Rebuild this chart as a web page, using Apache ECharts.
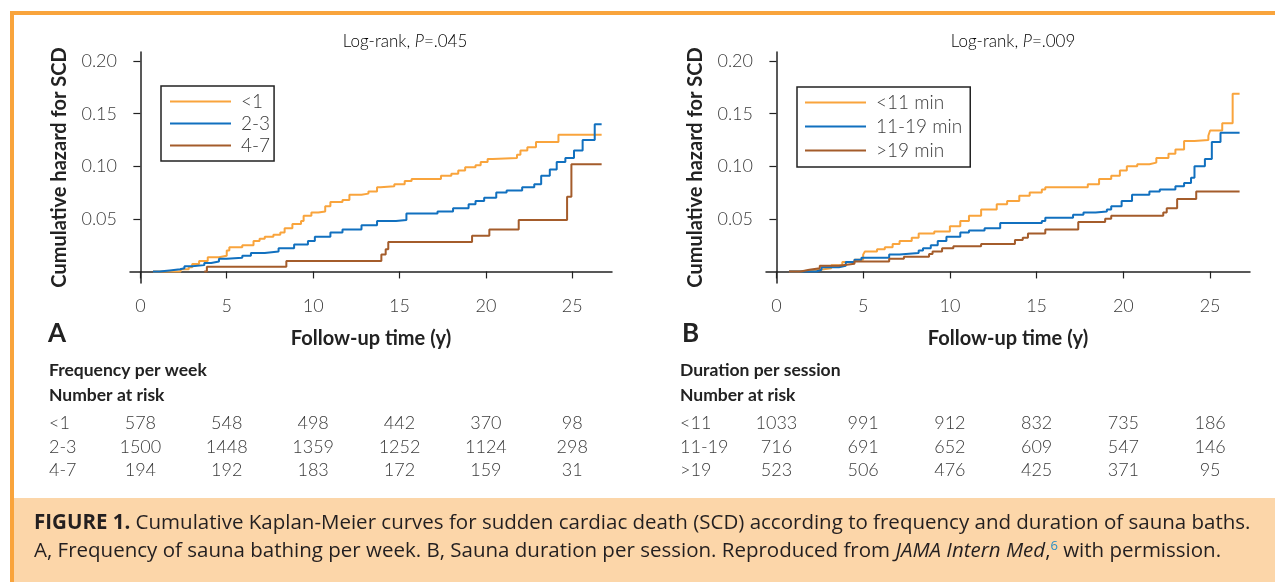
<!DOCTYPE html>
<html>
<head>
<meta charset="utf-8">
<script src="https://cdn.jsdelivr.net/npm/echarts@6.0.0/dist/echarts.min.js"></script>
<style>
  html, body { margin: 0; padding: 0; background: #fff; }
  #main { width: 1275px; height: 582px; }
</style>
</head>
<body>
<div id="main"></div>
<script>
// A: frequency per week
const freqNames = ['<1', '2-3', '4-7'];
const freqLt1 = [[0.73,0],[2.33,0.002],[2.8,0.004],[3.0,0.007],[3.4,0.010],[3.9,0.0134],[4.55,0.015],[5.0,0.020],[5.15,0.023],[5.9,0.025],[6.55,0.029],[6.9,0.031],[7.2,0.033],[7.7,0.035],[8.1,0.037],[8.35,0.041],[8.8,0.045],[9.3,0.048],[9.45,0.053],[9.9,0.056],[10.3,0.057],[10.7,0.062],[11.0,0.066],[11.7,0.068],[12.1,0.073],[12.8,0.074],[13.2,0.076],[13.7,0.080],[13.9,0.081],[14.7,0.083],[15.3,0.086],[15.7,0.088],[17.4,0.091],[18.0,0.093],[18.4,0.096],[18.8,0.099],[19.4,0.101],[19.7,0.104],[20.1,0.107],[20.4,0.108],[21.8,0.111],[22.0,0.115],[22.4,0.118],[22.9,0.123],[24.2,0.130],[26.7,0.130]];
const freq2to3 = [[0.73,0],[1.1,0.001],[1.7,0.002],[2.3,0.003],[2.55,0.005],[3.0,0.006],[3.7,0.008],[4.1,0.0095],[4.55,0.012],[5.0,0.013],[5.9,0.015],[6.4,0.0175],[7.2,0.019],[8.0,0.022],[8.9,0.0255],[9.7,0.029],[10.1,0.033],[11.0,0.037],[11.7,0.040],[12.8,0.044],[13.7,0.048],[14.8,0.049],[15.4,0.055],[17.2,0.057],[18.1,0.060],[19.0,0.064],[19.4,0.067],[19.9,0.070],[20.6,0.075],[21.2,0.077],[22.1,0.080],[22.8,0.083],[23.2,0.091],[23.7,0.097],[24.1,0.104],[24.6,0.108],[25.1,0.115],[25.6,0.125],[26.3,0.140],[26.7,0.140]];
const freq4to7 = [[3.7,0],[3.85,0.0045],[8.45,0.010],[13.95,0.016],[14.2,0.021],[14.35,0.028],[19.2,0.034],[20.2,0.040],[21.9,0.049],[24.7,0.071],[24.95,0.102],[26.7,0.102]];

// B: duration per session
const durNames = ['<11 min', '11-19 min', '>19 min'];
const durLt11 = [[0.73,0],[1.28,0.0016],[2.5,0.003],[3.16,0.006],[3.8,0.009],[4.5,0.011],[5.0,0.016],[5.1,0.019],[5.8,0.021],[6.25,0.023],[6.7,0.026],[7.1,0.029],[7.8,0.032],[8.2,0.036],[9.1,0.038],[10.0,0.043],[10.6,0.048],[11.1,0.053],[11.8,0.059],[12.7,0.064],[13.3,0.067],[14.0,0.072],[14.6,0.075],[15.3,0.078],[15.5,0.080],[17.95,0.083],[18.6,0.088],[19.3,0.091],[19.8,0.096],[20.2,0.100],[20.8,0.102],[21.5,0.1035],[21.9,0.108],[22.6,0.112],[23.0,0.116],[23.5,0.124],[24.1,0.125],[24.9,0.129],[25.0,0.134],[25.7,0.141],[26.3,0.169],[26.7,0.169]];
const dur11to19 = [[0.73,0],[2.3,0.0016],[2.6,0.004],[3.6,0.0054],[4.0,0.009],[4.5,0.011],[4.9,0.013],[6.5,0.016],[7.1,0.0175],[8.2,0.020],[8.45,0.022],[8.9,0.025],[9.3,0.029],[9.8,0.033],[10.6,0.037],[11.1,0.039],[12.0,0.041],[12.9,0.046],[15.3,0.048],[15.5,0.051],[17.1,0.054],[17.7,0.056],[18.4,0.057],[19.05,0.059],[19.3,0.062],[19.9,0.067],[20.5,0.073],[21.5,0.076],[22.1,0.078],[23.0,0.081],[23.5,0.084],[23.9,0.089],[24.1,0.100],[24.7,0.107],[25.1,0.123],[25.6,0.132],[26.7,0.132]];
const durGt19 = [[0.73,0],[1.4,0.0016],[1.9,0.003],[2.5,0.0054],[3.6,0.0073],[4.5,0.0095],[6.5,0.012],[7.35,0.014],[8.8,0.0166],[9.0,0.019],[9.55,0.022],[10.2,0.024],[11.8,0.026],[13.75,0.030],[14.2,0.032],[14.5,0.036],[15.5,0.040],[17.4,0.047],[18.95,0.050],[19.3,0.053],[22.3,0.056],[22.5,0.060],[23.1,0.069],[24.2,0.076],[26.7,0.076]];

// ticks
const xTicks = [0, 5, 10, 15, 20, 25];
const yTicks = [0.05, 0.10, 0.15, 0.20];

// number at risk
const riskTimes = [0, 5, 10, 15, 20, 25];
const freqRowLabels = ['<1', '2-3', '4-7'];
const freqRiskLt1 = [578, 548, 498, 442, 370, 98];
const freqRisk2to3 = [1500, 1448, 1359, 1252, 1124, 298];
const freqRisk4to7 = [194, 192, 183, 172, 159, 31];
const durRowLabels = ['<11', '11-19', '>19'];
const durRiskLt11 = [1033, 991, 912, 832, 735, 186];
const durRisk11to19 = [716, 691, 652, 609, 547, 146];
const durRiskGt19 = [523, 506, 476, 425, 371, 95];

const colors = ['#f9a43c', '#1170bf', '#a45c2b'];
const font = 'Lato, "Open Sans", sans-serif';
const capFont = '"Open Sans", Lato, sans-serif';
const axisColor = '#222';
const textColor = '#3a3a3a';

function makeX(gridIndex) {
  return {
    type: 'value', gridIndex: gridIndex, min: -0.6, max: 27.3,
    axisLine: { lineStyle: { color: axisColor, width: 1.5 } },
    axisTick: { customValues: xTicks, length: 7, lineStyle: { color: axisColor, width: 1.2 } },
    axisLabel: { customValues: xTicks, margin: 14, fontSize: 18, color: textColor, fontFamily: font, fontWeight: 300 },
    splitLine: { show: false },
    name: 'Follow-up time (y)', nameLocation: 'middle', nameGap: 46,
    nameTextStyle: { fontSize: 20, fontWeight: 'bold', color: axisColor, fontFamily: font }
  };
}

function makeY(gridIndex) {
  return {
    type: 'value', gridIndex: gridIndex, min: -0.011, max: 0.2087,
    axisLine: { show: true, lineStyle: { color: axisColor, width: 1.5 } },
    axisTick: { show: true, customValues: yTicks, length: 7, lineStyle: { color: axisColor, width: 1.2 } },
    axisLabel: { customValues: yTicks, formatter: (v) => v.toFixed(2), margin: 13, fontSize: 18, color: textColor, fontFamily: font, fontWeight: 300 },
    splitLine: { show: false },
    name: 'Cumulative hazard for SCD', nameLocation: 'middle', nameGap: 60,
    nameTextStyle: { fontSize: 20, fontWeight: 'bold', color: axisColor, fontFamily: font }
  };
}

function makeLine(name, data, idx, color) {
  return {
    name: name, type: 'line', step: 'end', symbol: 'none', data: data,
    xAxisIndex: idx, yAxisIndex: idx,
    lineStyle: { color: color, width: 2 }, itemStyle: { color: color },
    animation: false
  };
}

function makeLegend(names, left, top, gap, padding) {
  return {
    data: names, left: left, top: top, orient: 'vertical',
    itemWidth: 61, itemHeight: 14, itemGap: gap, padding: padding,
    borderColor: axisColor, borderWidth: 1.5, selectedMode: false,
    itemStyle: { opacity: 0 },
    textStyle: { fontSize: 19, color: textColor, fontFamily: font, fontWeight: 300, padding: [0, 0, 0, 5] }
  };
}

function logRank(p) {
  return '{n|Log-rank, }{i|P}{n|=' + p + '}';
}
const titleRich = {
  n: { fontSize: 17, color: '#444', fontFamily: font, fontWeight: 300 },
  i: { fontSize: 17, color: '#444', fontFamily: font, fontWeight: 300, fontStyle: 'italic' }
};

const chart = echarts.init(document.getElementById('main'));
chart.setOption({
  backgroundColor: '#fff',
  animation: false,
  grid: [
    { left: 130, top: 52, width: 482, height: 231 },
    { left: 766, top: 52, width: 484, height: 231 }
  ],
  xAxis: [makeX(0), makeX(1)],
  yAxis: [makeY(0), makeY(1)],
  legend: [
    makeLegend(freqNames, 161, 86, 3, [6, 4, 6, 8]),
    makeLegend(durNames, 797, 87, 5, [6, 8, 7, 7])
  ],
  series: [
    makeLine(freqNames[0], freqLt1, 0, colors[0]),
    makeLine(freqNames[1], freq2to3, 0, colors[1]),
    makeLine(freqNames[2], freq4to7, 0, colors[2]),
    makeLine(durNames[0], durLt11, 1, colors[0]),
    makeLine(durNames[1], dur11to19, 1, colors[1]),
    makeLine(durNames[2], durGt19, 1, colors[2])
  ]
});

// 表格和说明文字
function txt(x, y, text, extra) {
  return {
    type: 'text', x: x, y: y, silent: true,
    style: Object.assign({ text: text, fill: textColor, font: '300 18px ' + font, textAlign: 'left', textVerticalAlign: 'middle' }, extra || {})
  };
}

function riskTable(axisIdx, labelX, heading, rowLabels, rows) {
  const out = [];
  out.push(txt(labelX, 370, heading, { fill: axisColor, font: 'bold 17.5px ' + font }));
  out.push(txt(labelX, 395, 'Number at risk', { fill: axisColor, font: 'bold 17.5px ' + font }));
  const rowY = [423, 447, 470];
  rows.forEach((vals, r) => {
    out.push(txt(labelX, rowY[r], rowLabels[r]));
    vals.forEach((v, c) => {
      const px = chart.convertToPixel({ xAxisIndex: axisIdx }, riskTimes[c]);
      out.push(txt(px, rowY[r], String(v), { textAlign: 'center' }));
    });
  });
  return out;
}

const capRich = {
  b: { font: 'bold 20.5px ' + capFont, fill: '#231f20' },
  i: { font: 'italic 20.5px ' + capFont, fill: '#231f20' },
  s: { font: '13px ' + capFont, fill: '#2a8fc4', verticalAlign: 'top', padding: [0, 0, 10, 0] }
};

const graphics = [
  // 外框
  { type: 'rect', silent: true, shape: { x: 10, y: 11, width: 1265, height: 4 }, style: { fill: '#f9a43c' } },
  { type: 'rect', silent: true, shape: { x: 10, y: 11, width: 4, height: 571 }, style: { fill: '#f9a43c' } },
  { type: 'rect', silent: true, shape: { x: 14, y: 498, width: 1261, height: 84 }, style: { fill: '#fcd6a9' } },
  // 标题
  { type: 'text', silent: true, x: 405, y: 42, style: { text: logRank('.045'), rich: titleRich, textAlign: 'center', textVerticalAlign: 'middle' } },
  { type: 'text', silent: true, x: 1013, y: 42, style: { text: logRank('.009'), rich: titleRich, textAlign: 'center', textVerticalAlign: 'middle' } },
  txt(48, 334, 'A', { fill: '#222', font: 'bold 26px ' + font }),
  txt(682, 334, 'B', { fill: '#222', font: 'bold 26px ' + font }),
  // 图注
  { type: 'text', silent: true, x: 34, y: 523, style: { text: '{b|FIGURE 1.} Cumulative Kaplan-Meier curves for sudden cardiac death (SCD) according to frequency and duration of sauna baths.', rich: capRich, fill: '#231f20', font: '20.5px ' + capFont, textVerticalAlign: 'middle' } },
  { type: 'text', silent: true, x: 34, y: 551, style: { text: 'A, Frequency of sauna bathing per week. B, Sauna duration per session. Reproduced from {i|JAMA Intern Med},{s|6} with permission.', rich: capRich, fill: '#231f20', font: '20.5px ' + capFont, textVerticalAlign: 'middle' } }
].concat(
  riskTable(0, 49, 'Frequency per week', freqRowLabels, [freqRiskLt1, freqRisk2to3, freqRisk4to7]),
  riskTable(1, 680, 'Duration per session', durRowLabels, [durRiskLt11, durRisk11to19, durRiskGt19])
);

chart.setOption({ graphic: graphics });
</script>
</body>
</html>
